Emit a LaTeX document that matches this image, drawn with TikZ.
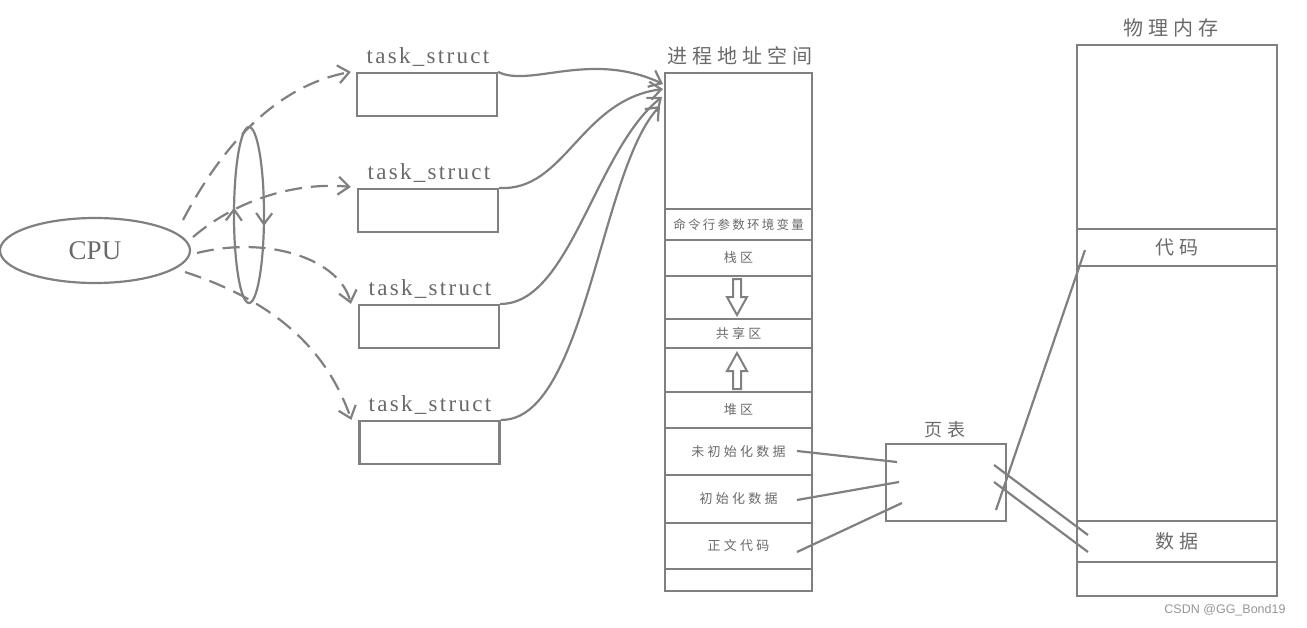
\documentclass[tikz,border=0pt]{standalone}
\usepackage{fontspec}
\setmainfont{Liberation Serif}
\newfontfamily\latinsp[LetterSpace=10]{Liberation Serif}
\newfontfamily\cjk[LetterSpace=25]{Noto Sans CJK SC}
\newfontfamily\cjkr[LetterSpace=18]{Noto Sans CJK SC}
\newfontfamily\wm{Liberation Sans}
\usetikzlibrary{arrows.meta,decorations.markings,shapes.geometric,calc}
\definecolor{lc}{RGB}{128,128,128}
\definecolor{tc}{RGB}{105,105,105}
\definecolor{wc}{RGB}{150,150,150}
\tikzset{
  every node/.style={text=tc},
  ln/.style={draw=lc, line width=2.2pt},
  tip/.style={-{Straight Barb[length=11pt,width=18pt,line width=2.2pt]}},
  dsh/.style={ln, dash pattern=on 17pt off 9pt},
  tbox/.style={draw=lc, line width=2.2pt, rectangle, inner sep=0pt, minimum width=140pt, minimum height=43pt},
  tlab/.style={font=\latinsp\fontsize{23}{23}\selectfont, inner sep=0pt},
  row/.style={draw=lc, line width=2.2pt, rectangle, inner sep=0pt, minimum width=147pt, minimum height=#1, font=\cjk\fontsize{13}{13}\selectfont},
  mrow/.style={draw=lc, line width=2.2pt, rectangle, inner sep=0pt, minimum width=200pt, minimum height=#1, font=\cjk\fontsize{19}{19}\selectfont},
  ttl/.style={font=\cjk\fontsize{20}{20}\selectfont, inner sep=0pt},
}
\begin{document}
\begin{tikzpicture}[x=1pt,y=-1pt]
\useasboundingbox (0,0) rectangle (1307,627);
% CPU
\node[ellipse, draw=lc, line width=2.2pt, minimum width=190pt, minimum height=65pt, inner sep=0pt, font=\fontsize{27}{27}\selectfont] (cpu) at (95,250.5) {CPU};
% task_struct boxes
\node[tbox] (t1) at (427,94.5) {};
\node[tbox] (t2) at (428,210.5) {};
\node[tbox] (t3) at (429,326.5) {};
\node[tbox] (t4) at (429.5,442.5) {};
\node[tlab] (l1) at (428,57) {task\_struct};
\node[tlab] (l2) at (429,173) {task\_struct};
\node[tlab] (l3) at (430,289) {task\_struct};
\node[tlab] (l4) at (430,405) {task\_struct};
% process address space
\node[ttl] (pastitle) at (740,56) {进程地址空间};
\node[row=136pt] (top) at (738.5,141) {};
\node[row=31pt, font=\cjkr\fontsize{12.5}{12.5}\selectfont] (r1) at (738.5,224.5) {命令行参数环境变量};
\node[row=36pt] (r2) at (738.5,258) {栈区};
\node[row=43pt] (g1) at (738.5,297.5) {};
\node[row=29pt] (r3) at (738.5,333.5) {共享区};
\node[row=44pt] (g2) at (738.5,370) {};
\node[row=36pt] (r4) at (738.5,410) {堆区};
\node[row=47pt] (r5) at (738.5,451.5) {未初始化数据};
\node[row=48pt] (r6) at (738.5,499) {初始化数据};
\node[row=46pt] (r7) at (738.5,546) {正文代码};
\node[row=22pt] (bot) at (738.5,580) {};
% block arrows
\draw[ln, line width=2pt] (733,279) -- (741,279) -- (741,297) -- (747,297) -- (737,315) -- (727,297) -- (733,297) -- cycle;
\draw[ln, line width=2pt] (737,353) -- (747,371) -- (741,371) -- (741,389) -- (733,389) -- (733,371) -- (727,371) -- cycle;
% page table
\node[draw=lc, line width=2.2pt, rectangle, inner sep=0pt, minimum width=120pt, minimum height=77pt] (pt) at (946,482.5) {};
\node[ttl, font=\cjk\fontsize{18}{18}\selectfont] (pttitle) at (945,430) {页表};
% physical memory
\node[ttl] (memtitle) at (1171,28) {物理内存};
\node[mrow=184pt] (mtop) at (1177,137) {};
\node[mrow=37pt] (mcode) at (1177,247.5) {代码};
\node[mrow=255pt] (mmid) at (1177,393.5) {};
\node[mrow=41pt] (mdata) at (1177,541.5) {数据};
\node[mrow=34pt] (mbot) at (1177,579) {};
% small rotating ellipse
\draw[ln, postaction=decorate, decoration={markings,
   mark=at position 0.03 with {\arrow{Straight Barb[length=11pt,width=16pt,line width=2.2pt]}},
   mark=at position 0.52 with {\arrow{Straight Barb[length=11pt,width=16pt,line width=2.2pt]}}}]
   (249,215) ellipse [x radius=15, y radius=88];
% CPU dashed arrows
\coordinate (s1) at (183,220);
\coordinate (s2) at (193,237);
\coordinate (s3) at (197,253);
\coordinate (s4) at (185,272);
\coordinate (e1) at ($(t1.north west)+(-5,0)$);
\coordinate (e2) at ($(t2.north west)+(-6,-1)$);
\coordinate (e3) at ($(t3.north west)+(-7,0)$);
\coordinate (e4) at ($(t4.north west)+(-7,0)$);
\draw[dsh, tip] (s1) .. controls (225,140) and (280,85) .. (e1);
\draw[dsh, tip] (s2) .. controls (240,197) and (300,182) .. (e2);
\draw[dsh, tip] (s3) .. controls (270,235) and (340,260) .. (e3);
\draw[dsh, tip] (s4) .. controls (270,300) and (325,345) .. (e4);
% task_struct to address space
\coordinate (a1) at (663,84);
\coordinate (a2) at (663,89);
\coordinate (a3) at (662,97);
\coordinate (a4) at (660,106);
\draw[ln, tip] (t1.north east) .. controls (530,88) and (590,50) .. (a1);
\draw[ln, tip] (t2.north east) .. controls (565,192) and (580,100) .. (a2);
\draw[ln, tip] (t3.north east) .. controls (570,305) and (595,150) .. (a3);
\draw[ln, tip] (t4.north east) .. controls (585,422) and (600,170) .. (a4);
% page table lines
\coordinate (c1s) at (797,451); \coordinate (c1e) at (897,462);
\coordinate (c2s) at (797,500); \coordinate (c2e) at (899,482);
\coordinate (c3s) at (797,552); \coordinate (c3e) at (902,503);
\draw[ln] (c1s) -- (c1e);
\draw[ln] (c2s) -- (c2e);
\draw[ln] (c3s) -- (c3e);
\coordinate (d0s) at (996,510); \coordinate (d0e) at (1085,250);
\coordinate (d1s) at (994,465); \coordinate (d1e) at (1088,535);
\coordinate (d2s) at (994,482); \coordinate (d2e) at (1088,552);
\draw[ln] (d0s) -- (d0e);
\draw[ln] (d1s) -- (d1e);
\draw[ln] (d2s) -- (d2e);
% watermark
\node[font=\wm\fontsize{12.5}{12.5}\selectfont, text=wc, inner sep=0pt] (wmark) at (1225,610) {CSDN @GG\_Bond19};
\end{tikzpicture}
\end{document}
